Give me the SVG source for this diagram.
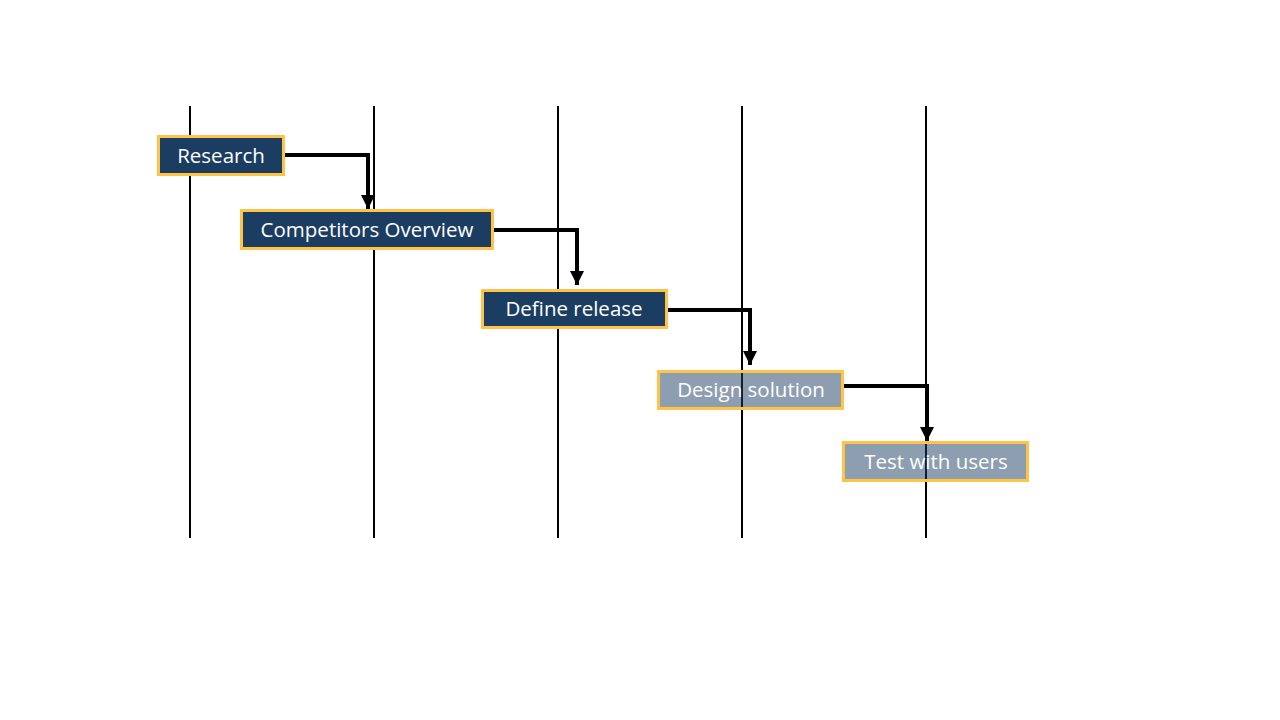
<svg xmlns="http://www.w3.org/2000/svg" width="1280" height="720" viewBox="0 0 1280 720">
<defs>
<style>
.grid line{stroke:#000;stroke-width:2}
.box{stroke:#FFC445;stroke-width:3}
.dark{fill:#1C3D62}
.light{fill:#1C3D62;fill-opacity:0.5}
.lbl{font-family:"Open Sans","Noto Sans",sans-serif;font-size:20.5px;fill:#fff;text-anchor:middle;dominant-baseline:central}
.conn path{fill:none;stroke:#000;stroke-width:4;stroke-linejoin:miter}
</style>
<marker id="arr" viewBox="0 0 10 10" refX="10" refY="5" markerWidth="3.6" markerHeight="3.6" markerUnits="strokeWidth" orient="auto">
<path d="M0,0 L10,5 L0,10 z" fill="#000"/>
</marker>
</defs>
<rect width="1280" height="720" fill="#fff"/>
<g class="grid" id="grid">
<line x1="190" y1="106" x2="190" y2="538"/>
<line x1="374" y1="106" x2="374" y2="538"/>
<line x1="558" y1="106" x2="558" y2="538"/>
<line x1="742" y1="106" x2="742" y2="538"/>
<line x1="926" y1="106" x2="926" y2="538"/>
</g>
<g class="conn" id="connectors">
<path d="M285,155 H368 V209" marker-end="url(#arr)"/>
<path d="M494,230 H577 V285" marker-end="url(#arr)"/>
<path d="M668,310 H750 V365" marker-end="url(#arr)"/>
<path d="M844,386 H927 V441" marker-end="url(#arr)"/>
</g>
<g id="research">
<rect class="box dark" x="158.5" y="136.5" width="125" height="38"/>
<text class="lbl" x="221" y="155">Research</text>
</g>
<g id="competitors">
<rect class="box dark" x="241.5" y="210.5" width="251" height="38"/>
<text class="lbl" x="367" y="229">Competitors Overview</text>
</g>
<g id="define">
<rect class="box dark" x="482.5" y="290.5" width="184" height="37"/>
<text class="lbl" x="574" y="308">Define release</text>
</g>
<g id="design">
<rect class="box light" x="658.5" y="371.5" width="184" height="37"/>
<text class="lbl" x="751" y="389">Design solution</text>
</g>
<g id="test">
<rect class="box light" x="843.5" y="442.5" width="184" height="38"/>
<text class="lbl" x="936" y="461">Test with users</text>
</g>
</svg>
